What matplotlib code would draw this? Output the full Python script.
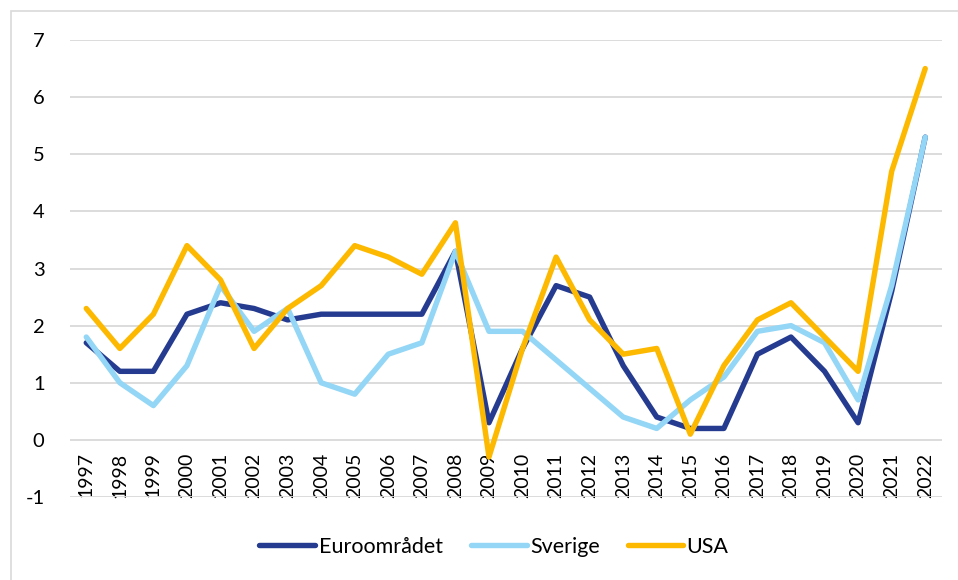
import matplotlib
matplotlib.use("Agg")
import matplotlib.pyplot as plt
from matplotlib.patches import Rectangle

plt.rcParams["font.family"] = ["Lato", "DejaVu Sans"]
plt.rcParams["axes.unicode_minus"] = False

years = [str(y) for y in range(1997, 2023)]
euro = [1.7, 1.2, 1.2, 2.2, 2.4, 2.3, 2.1, 2.2, 2.2, 2.2, 2.2, 3.3, 0.3,
        1.6, 2.7, 2.5, 1.3, 0.4, 0.2, 0.2, 1.5, 1.8, 1.2, 0.3, 2.6, 5.3]
sverige = [1.8, 1.0, 0.6, 1.3, 2.7, 1.9, 2.3, 1.0, 0.8, 1.5, 1.7, 3.3, 1.9,
           1.9, 1.4, 0.9, 0.4, 0.2, 0.7, 1.1, 1.9, 2.0, 1.7, 0.7, 2.7, 5.3]
usa = [2.3, 1.6, 2.2, 3.4, 2.8, 1.6, 2.3, 2.7, 3.4, 3.2, 2.9, 3.8, -0.3,
       1.6, 3.2, 2.1, 1.5, 1.6, 0.1, 1.3, 2.1, 2.4, 1.8, 1.2, 4.7, 6.5]

series = [("Euroområdet", euro, "#253B8F"),
          ("Sverige", sverige, "#93D6F6"),
          ("USA", usa, "#FDB800")]

W, H = 958, 580
fig = plt.figure(figsize=(W / 100, H / 100), dpi=100)
fig.patches.append(Rectangle((11 / W, -0.1), 1.2, 1.1 - 11 / H, transform=fig.transFigure,
                             fill=False, edgecolor="#D9D9D9", linewidth=1.2))

ax = fig.add_axes([69.5 / W, 1 - 497 / H, 872.5 / W, 457 / H])
# x axis crosses at 0, so the year labels sit just under the zero line
ax.spines["bottom"].set_position(("data", 0))
ax.spines["bottom"].set_visible(False)
for side in ["top", "right", "left"]:
    ax.spines[side].set_visible(False)

x = list(range(len(years)))
for name, vals, color in series:
    ax.plot(x, vals, color=color, linewidth=3.9, label=name, solid_joinstyle="round",
            solid_capstyle="round")

ax.set_xlim(-0.5, len(years) - 0.5)
ax.set_ylim(-1, 7)
ax.set_yticks(range(-1, 8))
ax.set_xticks(x)
ax.set_xticklabels(years, rotation=90, fontsize=14)
ax.tick_params(axis="x", length=0, pad=9)
ax.tick_params(axis="y", length=0, pad=18, labelsize=14.5)
ax.grid(axis="y", color="#D9D9D9", linewidth=1.3)
ax.set_axisbelow(True)

fig.legend(loc="center", bbox_to_anchor=(494 / W, 1 - 547 / H), ncol=3, frameon=False,
           fontsize=15.5, handlelength=2.6, handletextpad=0.15, columnspacing=1.3)

fig.savefig("out.png", dpi=100)
